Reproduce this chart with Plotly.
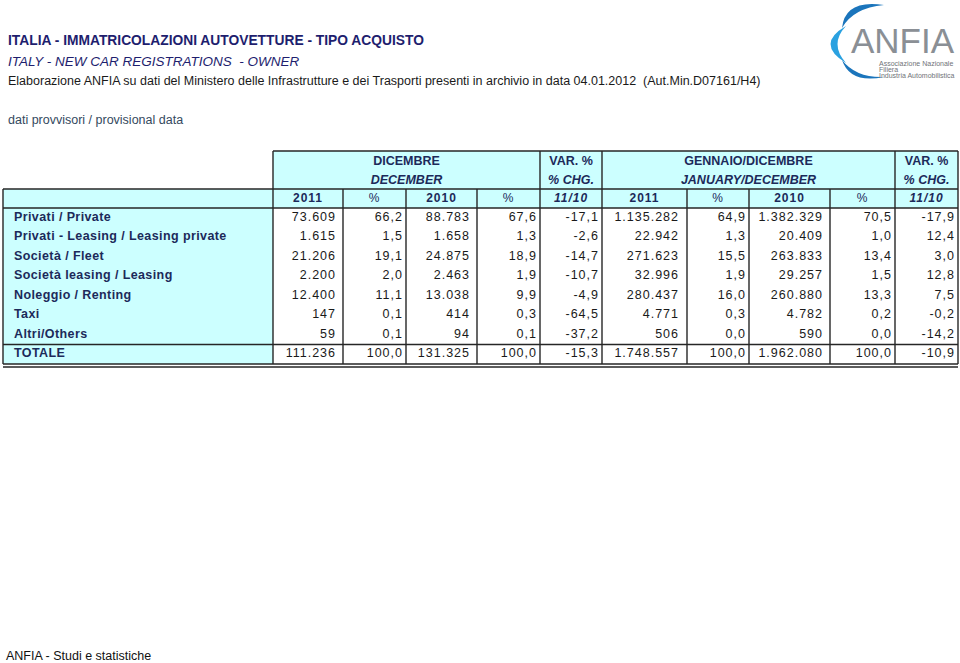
import plotly.graph_objects as go

# ---------------- data ----------------
categories = ["Privati / Private", "Privati - Leasing / Leasing private", "Società / Fleet",
              "Società leasing / Leasing", "Noleggio / Renting", "Taxi", "Altri/Others", "TOTALE"]
dec_2011 = [73609, 1615, 21206, 2200, 12400, 147, 59, 111236]
dec_2011_pct = [66.2, 1.5, 19.1, 2.0, 11.1, 0.1, 0.1, 100.0]
dec_2010 = [88783, 1658, 24875, 2463, 13038, 414, 94, 131325]
dec_2010_pct = [67.6, 1.3, 18.9, 1.9, 9.9, 0.3, 0.1, 100.0]
dec_chg = [-17.1, -2.6, -14.7, -10.7, -4.9, -64.5, -37.2, -15.3]
ytd_2011 = [1135282, 22942, 271623, 32996, 280437, 4771, 506, 1748557]
ytd_2011_pct = [64.9, 1.3, 15.5, 1.9, 16.0, 0.3, 0.0, 100.0]
ytd_2010 = [1382329, 20409, 263833, 29257, 260880, 4782, 590, 1962080]
ytd_2010_pct = [70.5, 1.0, 13.4, 1.5, 13.3, 0.2, 0.0, 100.0]
ytd_chg = [-17.9, 12.4, 3.0, 12.8, 7.5, -0.2, -14.2, -10.9]

col_headers = ["2011", "%", "2010", "%", "11/10", "2011", "%", "2010", "%", "11/10"]
group_headers_it = ["DICEMBRE", "VAR. %", "GENNAIO/DICEMBRE", "VAR. %"]
group_headers_en = ["DECEMBER", "% CHG.", "JANUARY/DECEMBER", "% CHG."]

title_1 = "ITALIA - IMMATRICOLAZIONI AUTOVETTURE - TIPO ACQUISTO"
title_2 = "ITALY - NEW CAR REGISTRATIONS  - OWNER"
title_3 = ("Elaborazione ANFIA su dati del Ministero delle Infrastrutture e dei Trasporti "
           "presenti in archivio in data 04.01.2012  (Aut.Min.D07161/H4)")
note = "dati provvisori / provisional data"
footer = "ANFIA - Studi e statistiche"
logo_name = "ANFIA"
logo_lines = ["Associazione Nazionale", "Filiera", "Industria Automobilistica"]

# ---------------- style / layout constants ----------------
W, H = 960, 663
COL_EDGES = [273, 343, 406, 477, 540, 602, 687, 749, 830, 895, 958]
GROUP_SPANS = [(0, 4), (4, 5), (5, 9), (9, 10)]   # column index spans of the group headers
LEFT = 3
Y_HEAD = 151
Y_SUB = 189
Y_DATA = 208
ROW_H = 19.5
CYAN = "#ccffff"
LINE = "#262626"
NAVY = "#1c2a5a"
TITLE_NAVY = "#1e1e6e"
NUM_COLOR = "#1a1a1a"
FONT = "Liberation Sans, Arial, sans-serif"


def fmt_int(v):
    return f"{v:,}".replace(",", ".")


def fmt_pct(v):
    return f"{v:.1f}".replace(".", ",")


def spaced(s, ls):
    return f"<span style='letter-spacing:{ls}px'>{s}</span>"


columns = [
    (dec_2011, fmt_int, 7), (dec_2011_pct, fmt_pct, 3), (dec_2010, fmt_int, 7),
    (dec_2010_pct, fmt_pct, 3), (dec_chg, fmt_pct, 3),
    (ytd_2011, fmt_int, 8), (ytd_2011_pct, fmt_pct, 3), (ytd_2010, fmt_int, 7),
    (ytd_2010_pct, fmt_pct, 3), (ytd_chg, fmt_pct, 3),
]

n = len(categories)
row_centers = [Y_DATA + ROW_H * (i + 0.5) for i in range(n)]
Y_END = Y_DATA + ROW_H * n

fig = go.Figure()

# ---------------- shapes: backgrounds ----------------
shapes = []
shapes.append(dict(type="rect", x0=COL_EDGES[0], x1=COL_EDGES[-1], y0=Y_HEAD, y1=Y_DATA,
                   fillcolor=CYAN, line=dict(width=0), layer="below"))
shapes.append(dict(type="rect", x0=LEFT, x1=COL_EDGES[0], y0=Y_SUB, y1=Y_END,
                   fillcolor=CYAN, line=dict(width=0), layer="below"))


def hline(x0, x1, y, w=1.4):
    shapes.append(dict(type="line", x0=x0, x1=x1, y0=y, y1=y, line=dict(color=LINE, width=w)))


def vline(x, y0, y1, w=1.4):
    shapes.append(dict(type="line", x0=x, x1=x, y0=y0, y1=y1, line=dict(color=LINE, width=w)))


# header borders
hline(COL_EDGES[0], COL_EDGES[-1], Y_HEAD)
for a, b in GROUP_SPANS:
    vline(COL_EDGES[a], Y_HEAD, Y_SUB)
vline(COL_EDGES[-1], Y_HEAD, Y_SUB)
# sub header and body
hline(LEFT, COL_EDGES[-1], Y_SUB)
hline(LEFT, COL_EDGES[-1], Y_DATA)
vline(LEFT, Y_SUB, Y_END)
for x in COL_EDGES:
    vline(x, Y_SUB, Y_END)
hline(LEFT, COL_EDGES[-1], Y_DATA + ROW_H * (n - 1))
hline(LEFT, COL_EDGES[-1], Y_END)
hline(LEFT, COL_EDGES[-1], Y_END + 3)

# ---------------- logo shapes ----------------
shapes.append(dict(type="path", path="M 842,28 Q 845,-1 884,5 Q 853,8 842,28 Z",
                   fillcolor="#1b75bc", line=dict(width=0)))
shapes.append(dict(type="path", path="M 846,26 Q 815,44 846,63 Q 829,44 846,26 Z",
                   fillcolor="#2aa1e0", line=dict(width=0)))
shapes.append(dict(type="path", path="M 842,60 Q 850,84 884,77 Q 856,78 842,60 Z",
                   fillcolor="#1b75bc", line=dict(width=0)))

# ---------------- table text ----------------
# category labels
fig.add_trace(go.Scatter(
    x=[14] * n, y=row_centers, mode="text",
    text=[spaced(c, 0.4) for c in categories], textposition="middle right",
    textfont=dict(family=FONT, size=12.5, color=NAVY, weight="bold"),
    hoverinfo="skip", showlegend=False, cliponaxis=False))

# numeric columns
for j, (vals, f, pad) in enumerate(columns):
    fig.add_trace(go.Scatter(
        x=[COL_EDGES[j + 1] - pad] * n, y=row_centers, mode="text",
        text=[spaced(f(v), 1.0) for v in vals], textposition="middle left",
        textfont=dict(family=FONT, size=12.5, color=NUM_COLOR),
        hoverinfo="skip", showlegend=False, cliponaxis=False))

# column headers
sub_y = (Y_SUB + Y_DATA) / 2
for j, h in enumerate(col_headers):
    xc = (COL_EDGES[j] + COL_EDGES[j + 1]) / 2
    fig.add_trace(go.Scatter(
        x=[xc], y=[sub_y], mode="text", text=[spaced(h, 1)], textposition="middle center",
        textfont=dict(family=FONT, size=12, color=NAVY,
                      weight="normal" if h == "%" else "bold",
                      style="italic" if "/" in h else "normal"),
        hoverinfo="skip", showlegend=False, cliponaxis=False))

# group headers
for (a, b), it, en in zip(GROUP_SPANS, group_headers_it, group_headers_en):
    xc = (COL_EDGES[a] + COL_EDGES[b]) / 2
    fig.add_trace(go.Scatter(
        x=[xc], y=[161.5], mode="text", text=[it], textposition="middle center",
        textfont=dict(family=FONT, size=12.5, color=NAVY, weight="bold"),
        hoverinfo="skip", showlegend=False, cliponaxis=False))
    fig.add_trace(go.Scatter(
        x=[xc], y=[180.5], mode="text", text=[en], textposition="middle center",
        textfont=dict(family=FONT, size=12.5, color=NAVY, weight="bold", style="italic"),
        hoverinfo="skip", showlegend=False, cliponaxis=False))

# ---------------- titles ----------------
SMALL = dict(family=FONT, size=7, color="#6f7378")
annotations = [
    dict(x=6, y=40, text=f"<b>{title_1}</b>", font=dict(family=FONT, size=13.8, color=TITLE_NAVY)),
    dict(x=6, y=61, text=f"<i>{title_2}</i>", font=dict(family=FONT, size=13.5, color=TITLE_NAVY)),
    dict(x=6, y=81, text=title_3, font=dict(family=FONT, size=12.5, color="#1a1a1a")),
    dict(x=6, y=120, text=note, font=dict(family=FONT, size=12.5, color="#34495e")),
    dict(x=4, y=656, text=footer, font=dict(family=FONT, size=12.5, color="#111111")),
    dict(x=849, y=40, text=logo_name,
         font=dict(family="Liberation Sans Narrow, Arial Narrow, Liberation Sans, sans-serif",
                   size=35, color="#8a8f95")),
    dict(x=877, y=63.5, text=logo_lines[0], font=SMALL),
    dict(x=877, y=69.5, text=logo_lines[1], font=SMALL),
    dict(x=877, y=75.5, text=logo_lines[2], font=SMALL),
]
for a in annotations:
    a.update(xref="x", yref="y", xanchor="left", yanchor="middle", showarrow=False)

fig.update_layout(
    width=W, height=H, margin=dict(l=0, r=0, t=0, b=0),
    paper_bgcolor="white", plot_bgcolor="white",
    xaxis=dict(range=[0, W], visible=False, fixedrange=True),
    yaxis=dict(range=[H, 0], visible=False, fixedrange=True),
    shapes=shapes, annotations=annotations, showlegend=False,
)

fig.write_html("out.html", config={"displayModeBar": False},
               post_script="document.body.style.margin='0';document.body.style.padding='0';")
